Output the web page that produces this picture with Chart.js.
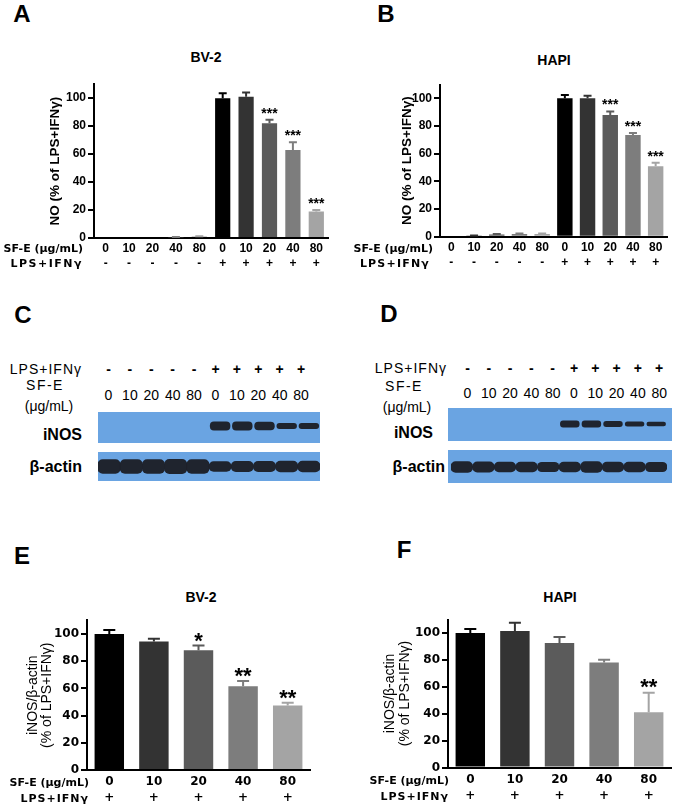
<!DOCTYPE html>
<html><head><meta charset="utf-8">
<script src="https://cdn.jsdelivr.net/npm/chart.js@4.4.1/dist/chart.umd.min.js"></script>
<style>
html,body{margin:0;padding:0;background:#fff;}
body{position:relative;width:677px;height:809px;overflow:hidden;}
.box{position:absolute;}
.t{position:absolute;white-space:nowrap;line-height:1;color:#000;}
</style></head><body>
<script>
// ---------- DATA ----------
const doseLabels = ['0','10','20','40','80','0','10','20','40','80'];
const lpsMarks   = ['-','-','-','-','-','+','+','+','+','+'];
const noBV2      = [0, 0, 0, 0.5, 1, 100, 101, 82, 63, 19];
const noBV2Err   = [0, 0, 0, 0.3, 0.3, 3.5, 3, 2.5, 5.5, 1];
const noBV2Sig   = ['','','','','','','','***','***','***'];
const noHAPI     = [0, 0.5, 1.5, 2, 2, 100, 100, 88, 73.5, 51];
const noHAPIErr  = [0, 0.3, 0.5, 0.3, 0.3, 2.5, 1.8, 2.5, 1.5, 2.5];
const noHAPISig  = ['','','','','','','','***','***','***'];
const doseE      = ['0','10','20','40','80'];
const lpsE       = ['+','+','+','+','+'];
const inosBV2    = [100, 94.5, 88, 61.5, 47.5];
const inosBV2Err = [3, 2, 3.5, 4, 2];
const inosBV2Sig = ['','','*','**','**'];
const inosHAPI   = [100, 101.5, 92.5, 78, 41];
const inosHAPIErr= [3, 6, 4.5, 2, 14.5];
const inosHAPISig= ['','','','','**'];
const yTicks     = [0, 20, 40, 60, 80, 100];
// western blot band intensities (band thickness, arbitrary units)
const blotC_iNOS  = [0, 0, 0, 0, 0, 9, 9, 8.5, 6, 6];
const blotC_actin = [14, 14, 14, 14.5, 14, 10, 10.5, 10.5, 11, 11];
const blotD_iNOS  = [0, 0, 0, 0, 0, 7, 7, 6, 5, 4.5];
const blotD_actin = [11, 10.5, 10, 10, 9.5, 10, 11, 10, 10, 9.5];

// ---------- STYLE ----------
const ARIAL = '"Liberation Sans", Arial, sans-serif';
const DEJA = '"DejaVu Sans", sans-serif';
const palette = ['#000000','#333333','#5b5b5b','#7d7d7d','#a4a4a4'];
const BLOT_BG = 'rgb(106,164,226)';
const BAND = 'rgba(28,30,38,0.96)';

function txt(s, x, y, o) {
  o = o || {};
  const d = document.createElement('div');
  d.className = 't';
  d.textContent = s;
  let css = `font-family:${o.f||ARIAL};font-size:${o.size||12}px;font-weight:${o.w||'bold'};top:${y}px;`;
  if (o.ls) css += `letter-spacing:${o.ls}px;`;
  if (o.align === 'right') css += `right:${677 - x}px;transform:translateY(-50%);`;
  else if (o.align === 'left') css += `left:${x}px;transform:translateY(-50%);`;
  else css += `left:${x}px;transform:translate(-50%,-50%);`;
  d.style.cssText = css;
  document.body.appendChild(d);
}

function makeCanvas(left, top, w, h) {
  const d = document.createElement('div');
  d.className = 'box';
  d.style.cssText = `left:${left}px;top:${top}px;width:${w}px;height:${h}px;`;
  const c = document.createElement('canvas');
  c.width = w; c.height = h;
  c.style.width = w + 'px'; c.style.height = h + 'px';
  d.appendChild(c);
  document.body.appendChild(d);
  return c;
}

const errPlugin = {
  id: 'err',
  afterDatasetsDraw(chart, args, o) {
    const ctx = chart.ctx, ys = chart.scales.y;
    const meta = chart.getDatasetMeta(0);
    const ds = chart.data.datasets[0];
    ctx.save();
    meta.data.forEach((bar, i) => {
      const v = ds.data[i], e = o.err[i];
      const col = ds.backgroundColor[i];
      const yTop = ys.getPixelForValue(v + e);
      if (e > 0) {
        ctx.strokeStyle = col; ctx.lineWidth = o.lw;
        ctx.beginPath();
        ctx.moveTo(bar.x, ys.getPixelForValue(v));
        ctx.lineTo(bar.x, yTop);
        ctx.moveTo(bar.x - o.cap / 2, yTop);
        ctx.lineTo(bar.x + o.cap / 2, yTop);
        ctx.stroke();
      }
      if (o.sig[i]) {
        ctx.fillStyle = '#000';
        ctx.font = `bold ${o.starSize}px ${o.starFont}`;
        ctx.textAlign = 'center'; ctx.textBaseline = 'alphabetic';
        ctx.fillText(o.sig[i], bar.x, yTop + o.starOff);
      }
    });
    ctx.restore();
  }
};

function barChart(cfg) {
  const c = makeCanvas(cfg.left, cfg.top, cfg.w, cfg.h);
  const colors = cfg.values.map((_, i) => palette[i % 5]);
  return new Chart(c.getContext('2d'), {
    type: 'bar',
    data: {
      labels: cfg.labels,
      datasets: [{ data: cfg.values, backgroundColor: colors, borderWidth: 0,
        barPercentage: cfg.barPct, categoryPercentage: 1 }]
    },
    options: {
      responsive: false, animation: false, events: [],
      layout: { padding: { left: 0, top: cfg.padTop, right: cfg.padRight, bottom: 0 } },
      plugins: {
        legend: { display: false }, tooltip: { enabled: false },
        err: { err: cfg.err, sig: cfg.sig, cap: cfg.cap, lw: 2, starSize: cfg.starSize,
               starFont: cfg.starFont, starOff: cfg.starOff }
      },
      scales: {
        x: {
          z: 1,
          grid: { display: false, drawTicks: false },
          border: { display: true, color: '#000', width: 2 },
          ticks: { color: '#000', autoSkip: false, maxRotation: 0, padding: cfg.xPad,
                   font: { family: cfg.tickFont, size: cfg.xSize, weight: 'bold', lineHeight: cfg.xLH } },
          afterFit(s) { s.height = cfg.xH; }
        },
        y: {
          min: 0, max: 110,
          afterBuildTicks(s) { s.ticks = yTicks.map(v => ({ value: v })); },
          ticks: { color: '#000', padding: 2,
                   font: { family: cfg.tickFont, size: cfg.ySize, weight: 'bold' } },
          grid: { drawOnChartArea: false, drawTicks: true, tickLength: 6, color: '#000', lineWidth: 2 },
          border: { color: '#000', width: 2 },
          title: { display: true, text: cfg.yTitle, color: '#000',
                   font: { family: ARIAL, size: cfg.yTitleSize, weight: cfg.yTitleW, lineHeight: cfg.yTitleLH },
                   padding: { top: cfg.yTitlePad, bottom: 0 } },
          afterFit(s) { s.width = cfg.yW; }
        }
      }
    },
    plugins: [errPlugin]
  });
}

const bgPlugin = {
  id: 'bg',
  beforeDraw(chart) {
    const ctx = chart.ctx;
    ctx.save();
    ctx.fillStyle = BLOT_BG;
    ctx.fillRect(0, 0, chart.width, chart.height);
    ctx.restore();
  }
};

function blot(left, top, w, h, bands, above, below, pl, pr, bp, rad) {
  const c = makeCanvas(left, top, w, h);
  return new Chart(c.getContext('2d'), {
    type: 'bar',
    data: {
      labels: doseLabels.map((d, i) => lpsMarks[i] + d),
      datasets: [{ data: bands.map(t => t > 0 ? [-t / 2, t / 2] : null),
        backgroundColor: BAND, borderWidth: 0, borderRadius: rad, borderSkipped: false,
        barPercentage: bp, categoryPercentage: 1 }]
    },
    options: {
      responsive: false, animation: false, events: [],
      layout: { padding: { left: pl, right: pr, top: 0, bottom: 0 } },
      plugins: { legend: { display: false }, tooltip: { enabled: false } },
      scales: { x: { display: false }, y: { display: false, min: -below, max: above } }
    },
    plugins: [bgPlugin]
  });
}

// ---------- Panel A ----------
barChart({ left: 0, top: 75, w: 330, h: 195, padTop: 8, padRight: 2, xH: 32, yW: 94,
  labels: doseLabels.map((d, i) => [d, lpsMarks[i]]), values: noBV2, err: noBV2Err, sig: noBV2Sig,
  barPct: 0.65, cap: 8, starSize: 14, starFont: ARIAL, starOff: -2,
  tickFont: ARIAL, xSize: 12, xLH: 1.25, xPad: 3, ySize: 12,
  yTitle: 'NO (% of LPS+IFNγ)', yTitleSize: 13.5, yTitleW: 'bold', yTitleLH: 1.2, yTitlePad: 46.9 });
// ---------- Panel B ----------
barChart({ left: 340, top: 75, w: 337, h: 195, padTop: 9.5, padRight: 10, xH: 33.3, yW: 100,
  labels: doseLabels.map((d, i) => [d, lpsMarks[i]]), values: noHAPI, err: noHAPIErr, sig: noHAPISig,
  barPct: 0.68, cap: 8, starSize: 14, starFont: ARIAL, starOff: -2,
  tickFont: ARIAL, xSize: 12, xLH: 1.25, xPad: 3, ySize: 12,
  yTitle: 'NO (% of LPS+IFNγ)', yTitleSize: 13.5, yTitleW: 'bold', yTitleLH: 1.2, yTitlePad: 58.9 });
// ---------- Panel E ----------
barChart({ left: 0, top: 605, w: 340, h: 204, padTop: 15.4, padRight: 30, xH: 39, yW: 87,
  labels: doseE.map((d, i) => [d, lpsE[i]]), values: inosBV2, err: inosBV2Err, sig: inosBV2Sig,
  barPct: 0.66, cap: 12, starSize: 22, starFont: ARIAL, starOff: 2,
  tickFont: DEJA, xSize: 12, xLH: 1.33, xPad: 4, ySize: 12,
  yTitle: ['iNOS/β-actin', '(% of LPS+IFNγ)'], yTitleSize: 14, yTitleW: 'normal', yTitleLH: 1.0, yTitlePad: 26 });
// ---------- Panel F ----------
barChart({ left: 340, top: 605, w: 337, h: 204, padTop: 14.5, padRight: 6, xH: 41.5, yW: 108,
  labels: doseE.map((d, i) => [d, lpsE[i]]), values: inosHAPI, err: inosHAPIErr, sig: inosHAPISig,
  barPct: 0.66, cap: 12, starSize: 22, starFont: ARIAL, starOff: 1,
  tickFont: DEJA, xSize: 12, xLH: 1.33, xPad: 4, ySize: 12,
  yTitle: ['iNOS/β-actin', '(% of LPS+IFNγ)'], yTitleSize: 14, yTitleW: 'normal', yTitleLH: 1.07, yTitlePad: 42.5 });

// ---------- Blots C / D ----------
blot(98, 412, 222, 31, blotC_iNOS, 14, 17, 0, 0, 0.92, 4);
blot(98, 452, 222, 29, blotC_actin, 14.5, 14.5, 0, 0, 1.0, 5);
blot(448, 408, 224, 33, blotD_iNOS, 16, 17, 3, 5, 0.9, 3);
blot(448, 450, 224, 33, blotD_actin, 17, 16, 3, 5, 1.0, 5);

// ---------- Text ----------
txt('A', 22, 14, { size: 24 });
txt('B', 386, 14, { size: 24 });
txt('C', 23, 315, { size: 24 });
txt('D', 389, 314, { size: 24 });
txt('E', 22, 556, { size: 24 });
txt('F', 404, 550, { size: 24 });

txt('BV-2', 206, 57, { size: 14 });
txt('HAPI', 554, 60, { size: 14 });
txt('BV-2', 201, 597, { size: 14 });
txt('HAPI', 560, 597, { size: 14 });

// bar chart row labels
txt('SF-E (μg/mL)', 83, 248, { f: DEJA, size: 11, align: 'right' });
txt('LPS+IFNγ', 83, 263, { f: DEJA, size: 11, align: 'right', ls: 1.5 });
txt('SF-E (μg/mL)', 433, 248, { f: DEJA, size: 11, align: 'right' });
txt('LPS+IFNγ', 430, 263, { f: DEJA, size: 11, align: 'right', ls: 1.2 });
txt('SF-E (μg/mL)', 89, 782, { f: DEJA, size: 11, align: 'right' });
txt('LPS+IFNγ', 89, 798, { f: DEJA, size: 11, align: 'right', ls: 1 });
txt('SF-E (μg/mL)', 449, 780, { f: DEJA, size: 11, align: 'right' });
txt('LPS+IFNγ', 449, 796, { f: DEJA, size: 11, align: 'right', ls: 1 });

// blot labels
function blotLabels(x0, step, yL, yD, lab) {
  txt('LPS+IFNγ', lab.lpsR, yL, { size: 14, w: 'normal', align: 'right', ls: 1 });
  txt('SF-E', lab.sfx, lab.sfy, { size: 14, w: 'normal', ls: 1.5 });
  txt('(μg/mL)', lab.ugx, lab.ugy, { size: 14, w: 'normal' });
  lpsMarks.forEach((m, i) => txt(m, x0 + i * step, yL, { size: 14, w: 'bold' }));
  doseLabels.forEach((d, i) => txt(d, x0 + i * step, yD, { size: 14, w: 'normal' }));
  txt('iNOS', lab.rx, lab.iy, { size: 16, align: 'right' });
  txt('β-actin', lab.rx2, lab.ay, { size: 16, align: 'right' });
}
blotLabels(108.5, 21.4, 369, 395, { lpsR: 82, sfx: 45, sfy: 385, ugx: 49, ugy: 406, rx: 82, iy: 435, rx2: 82, ay: 467 });
blotLabels(467.5, 21.3, 368, 393, { lpsR: 447, sfx: 404, sfy: 386, ugx: 407, ugy: 407, rx: 433, iy: 433, rx2: 445, ay: 467 });
</script>
</body></html>
